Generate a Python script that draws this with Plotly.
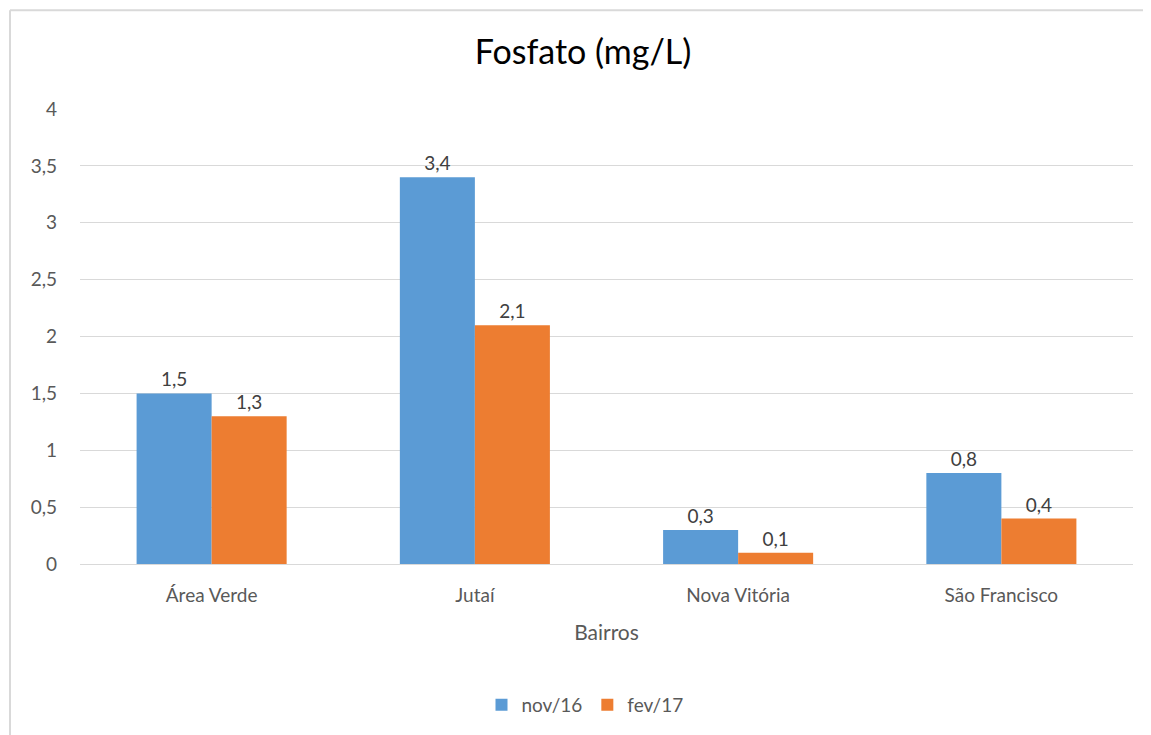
import plotly.graph_objects as go

bairros = ['Área Verde', 'Jutaí', 'Nova Vitória', 'São Francisco']
nov16 = [1.5, 3.4, 0.3, 0.8]
fev17 = [1.3, 2.1, 0.1, 0.4]
y_ticks = [0, 0.5, 1, 1.5, 2, 2.5, 3, 3.5, 4]

# the page body adds an 8px margin, so the figure is a bit smaller
OFF = 8
W, H = 1151 - OFF, 735 - OFF
L, R, T, B = 80 - OFF, 18, 109 - OFF, 170
pw, ph = W - L - R, H - T - B

font = 'Lato, Open Sans, sans-serif'
label_font = dict(family=font, size=19, color='#404040')

fig = go.Figure()
fig.add_trace(go.Bar(
    x=bairros, y=nov16, name='nov/16',
    marker=dict(color='#5B9BD5', line=dict(width=0)),
    text=[str(v).replace('.', ',') for v in nov16],
    textposition='outside', textfont=label_font, cliponaxis=False,
))
fig.add_trace(go.Bar(
    x=bairros, y=fev17, name='fev/17',
    marker=dict(color='#ED7D31', line=dict(width=0)),
    text=[str(v).replace('.', ',') for v in fev17],
    textposition='outside', textfont=label_font, cliponaxis=False,
))

def px_x(p):
    return (p - OFF - L) / pw

def px_y(p):
    return (H - B - (p - OFF)) / ph

# chart frame (only top and left edges are visible in the crop)
fig.add_shape(type='line', xref='paper', yref='paper',
              x0=px_x(10), x1=px_x(1160), y0=px_y(10), y1=px_y(10),
              line=dict(color='#d9d9d9', width=2))
fig.add_shape(type='line', xref='paper', yref='paper',
              x0=px_x(10), x1=px_x(10), y0=px_y(10), y1=px_y(745),
              line=dict(color='#d9d9d9', width=2))

fig.update_layout(
    width=W, height=H,
    margin=dict(l=L, r=R, t=T, b=B),
    paper_bgcolor='white', plot_bgcolor='white',
    separators=',.',
    barmode='group', bargap=0.43, bargroupgap=0,
    title=dict(text='Fosfato (mg/L)', xref='container', x=(583 - OFF) / W,
               xanchor='center', y=1 - (52 - OFF) / H, yanchor='middle',
               font=dict(family=font, size=34, color='#000000')),
    font=dict(family=font, color='#595959'),
    legend=dict(orientation='h', x=px_x(585), xanchor='center', xref='paper',
                y=px_y(705), yanchor='middle', font=dict(size=19, color='#595959'),
                itemwidth=30, traceorder='normal'),
    xaxis=dict(
        title=dict(text='Bairros', font=dict(size=21, color='#595959'), standoff=20),
        tickfont=dict(size=19, color='#595959'), ticklabelstandoff=14,
        showline=True, linecolor='#d9d9d9', linewidth=1,
        ticks='', showgrid=False,
    ),
    yaxis=dict(
        range=[0, 4], tickvals=y_ticks,
        tickfont=dict(size=19, color='#595959'),
        showgrid=True, gridcolor='#d9d9d9', gridwidth=1,
        zeroline=False, showline=False, ticks='', ticklabelstandoff=22,
    ),
)

fig.write_html('out.html')
